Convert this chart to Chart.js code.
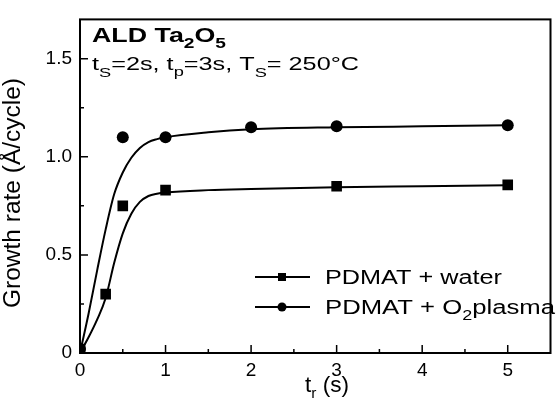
<!DOCTYPE html>
<html>
<head>
<meta charset="utf-8">
<script src="https://cdn.jsdelivr.net/npm/chart.js@4.4.1/dist/chart.umd.min.js"></script>
<style>
  html, body { margin: 0; padding: 0; background: #fff; }
  canvas { display: block; }
</style>
</head>
<body>
<canvas id="chart" width="558" height="416"></canvas>
<script>
// measured growth rates (A/cycle) vs purge/reactant time t_r (s)
const waterT = [0, 0.3, 0.5, 1, 3, 5];
const waterRate = [0.02, 0.30, 0.75, 0.83, 0.85, 0.857];
const plasmaT = [0, 0.5, 1, 2, 3, 5];
const plasmaRate = [0.02, 1.10, 1.10, 1.15, 1.155, 1.16];

// fitted curves
const waterFitT = [0, 0.1, 0.2, 0.3, 0.4, 0.5, 0.6, 0.7, 0.8, 0.9, 1, 1.5, 2, 3, 4, 5];
const waterFitRate = [0, 0.08, 0.17, 0.28, 0.46, 0.61, 0.71, 0.77, 0.80, 0.812, 0.818, 0.83, 0.836, 0.845, 0.85, 0.855];
const plasmaFitT = [0, 0.1, 0.2, 0.3, 0.4, 0.5, 0.6, 0.7, 0.8, 0.9, 1, 1.5, 2, 3, 4, 5];
const plasmaFitRate = [0, 0.2, 0.42, 0.63, 0.81, 0.92, 0.995, 1.045, 1.075, 1.09, 1.10, 1.125, 1.14, 1.15, 1.155, 1.16];

const xTicks = [0, 1, 2, 3, 4, 5];
const yTicks = [0, 0.5, 1, 1.5];
const yTickLabels = ['0', '0.5', '1.0', '1.5'];

const FONT = '"Liberation Sans", Arial, Helvetica, sans-serif';

const pts = (xs, ys) => xs.map((v, i) => ({ x: v, y: ys[i] }));

// draw a run of text pieces (for subscripts), squeezed/stretched to a width
function drawRich(ctx, parts, x, y, width) {
  let natural = 0;
  for (const p of parts) { ctx.font = p[1]; natural += ctx.measureText(p[0]).width; }
  const sx = width ? width / natural : 1;
  ctx.save();
  ctx.translate(x, y);
  ctx.scale(sx, 1);
  ctx.textAlign = 'left';
  ctx.textBaseline = 'alphabetic';
  let cx = 0;
  for (const p of parts) {
    ctx.font = p[1];
    ctx.fillText(p[0], cx, p[2] || 0);
    cx += ctx.measureText(p[0]).width;
  }
  ctx.restore();
}

const decor = {
  id: 'decor',
  afterDraw(chart) {
    const { ctx, chartArea: a, scales: { x, y } } = chart;
    ctx.save();
    ctx.strokeStyle = '#000';
    ctx.fillStyle = '#000';

    // frame
    ctx.lineWidth = 2;
    ctx.strokeRect(a.left, a.top, a.right - a.left, a.bottom - a.top);

    // inward ticks
    ctx.lineWidth = 1.5;
    ctx.beginPath();
    for (let v = 0.5; v < 5.5; v += 0.5) {
      const px = x.getPixelForValue(v);
      const len = Number.isInteger(v) ? 8 : 4;
      ctx.moveTo(px, a.bottom);
      ctx.lineTo(px, a.bottom - len);
    }
    for (let v = 0.25; v < 1.7; v += 0.25) {
      const py = y.getPixelForValue(v);
      const len = Math.abs(v * 2 - Math.round(v * 2)) < 1e-6 ? 8 : 4;
      ctx.moveTo(a.left, py);
      ctx.lineTo(a.left + len, py);
    }
    ctx.stroke();

    // annotation
    drawRich(ctx, [
      ['ALD Ta', 'bold 21px ' + FONT],
      ['2', 'bold 15px ' + FONT, 6],
      ['O', 'bold 21px ' + FONT],
      ['5', 'bold 15px ' + FONT, 6]
    ], 92, 42, 134);
    drawRich(ctx, [
      ['t', '18px ' + FONT], ['S', '13px ' + FONT, 7],
      ['=2s, t', '18px ' + FONT], ['p', '13px ' + FONT, 6],
      ['=3s, T', '18px ' + FONT], ['S', '13px ' + FONT, 7],
      ['= 250\u00B0C', '18px ' + FONT]
    ], 92, 70, 267);

    // legend
    const rows = [
      { y: 277, style: 'rect', parts: [['PDMAT + water', '20px ' + FONT]], w: 177 },
      { y: 307, style: 'circle', parts: [['PDMAT + O', '20px ' + FONT], ['2', '14px ' + FONT, 6], ['plasma', '20px ' + FONT]], w: 230 }
    ];
    for (const r of rows) {
      ctx.lineWidth = 2;
      ctx.beginPath();
      ctx.moveTo(255, r.y);
      ctx.lineTo(310, r.y);
      ctx.stroke();
      if (r.style === 'rect') {
        ctx.fillRect(278, r.y - 4, 8, 8);
      } else {
        ctx.beginPath();
        ctx.arc(282, r.y, 4.5, 0, Math.PI * 2);
        ctx.fill();
      }
      drawRich(ctx, r.parts, 325, r.y + 7, r.w);
    }

    // axis titles
    ctx.save();
    ctx.translate(20, 193);
    ctx.rotate(-Math.PI / 2);
    drawRich(ctx, [['Growth rate (\u00C5/cycle)', '23px ' + FONT]], -115, 0, 230);
    ctx.restore();
    drawRich(ctx, [
      ['t', '22px ' + FONT], ['r', '15px ' + FONT, 6], [' (s)', '22px ' + FONT]
    ], 305, 392, 44);

    ctx.restore();
  }
};

const tickFont = { family: FONT, size: 19 };

new Chart(document.getElementById('chart'), {
  type: 'scatter',
  data: {
    datasets: [
      {
        data: pts(waterFitT, waterFitRate),
        showLine: true, pointRadius: 0, borderColor: '#000', borderWidth: 2,
        cubicInterpolationMode: 'monotone'
      },
      {
        data: pts(plasmaFitT, plasmaFitRate),
        showLine: true, pointRadius: 0, borderColor: '#000', borderWidth: 2,
        cubicInterpolationMode: 'monotone'
      },
      {
        label: 'PDMAT + water',
        data: pts(waterT, waterRate),
        pointStyle: 'rect', pointRadius: 7.5, backgroundColor: '#000', borderColor: '#000', borderWidth: 0
      },
      {
        label: 'PDMAT + O2plasma',
        data: pts(plasmaT, plasmaRate),
        pointStyle: 'circle', pointRadius: 6, backgroundColor: '#000', borderColor: '#000', borderWidth: 0
      }
    ]
  },
  options: {
    responsive: false,
    animation: false,
    layout: { padding: { left: 0, right: 2, top: 10, bottom: 0 } },
    plugins: { legend: { display: false }, tooltip: { enabled: false } },
    scales: {
      x: {
        type: 'linear', min: 0, max: 5.5,
        afterBuildTicks: s => { s.ticks = xTicks.map(v => ({ value: v })); },
        afterFit: s => { s.height = 63; },
        grid: { display: false, drawTicks: false },
        border: { display: false },
        ticks: { font: tickFont, color: '#000', padding: 6, maxRotation: 0, autoSkip: false, callback: v => String(v) }
      },
      y: {
        type: 'linear', min: 0, max: 1.7,
        afterBuildTicks: s => { s.ticks = yTicks.map(v => ({ value: v })); },
        afterFit: s => { s.width = 80; },
        grid: { display: false, drawTicks: false },
        border: { display: false },
        ticks: { font: tickFont, color: '#000', padding: 8, autoSkip: false, callback: (v, i) => yTickLabels[i] }
      }
    }
  },
  plugins: [decor]
});
</script>
</body>
</html>
